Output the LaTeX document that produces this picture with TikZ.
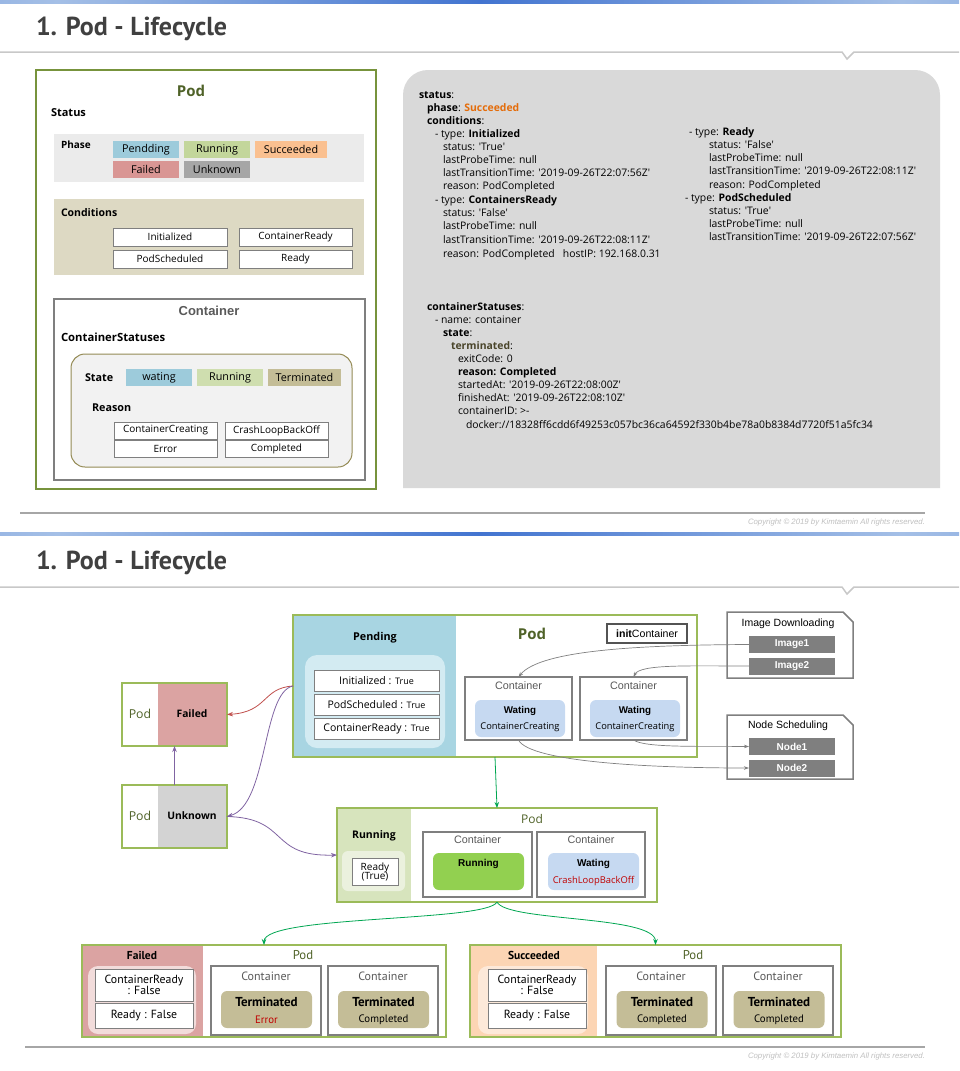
\documentclass[tikz,border=0pt]{standalone}
\usepackage{fontspec}
\setmainfont{Liberation Sans}
\newfontfamily\mg{Open Sans}
\newfontfamily\ttl{PT Sans}
\usetikzlibrary{arrows.meta,calc}
\newcommand\fsz[1]{\fontsize{#1}{#1}\selectfont}
\newcommand\qs{\textquotesingle}
\definecolor{barA}{HTML}{4274D0}
\definecolor{barB}{HTML}{A4BFE6}
\definecolor{cLine}{HTML}{C8C8C8}
\definecolor{cSep}{HTML}{A6A6A6}
\definecolor{cTitle}{HTML}{404040}
\definecolor{cOlive}{HTML}{77933C}
\definecolor{cOliveT}{HTML}{4F6228}
\definecolor{cPodG}{HTML}{9BBB59}
\definecolor{cGrayB}{HTML}{7F7F7F}
\definecolor{cPhase}{HTML}{EBEBEB}
\definecolor{cCond}{HTML}{DDD9C3}
\definecolor{cPend}{HTML}{9DCBDB}
\definecolor{cPend2}{HTML}{A8D5E2}
\definecolor{cPendIn}{HTML}{D3EBF2}
\definecolor{cRun}{HTML}{C3D69B}
\definecolor{cRun2}{HTML}{D7E4BD}
\definecolor{cRunIn}{HTML}{EBF1DE}
\definecolor{cSucc}{HTML}{FAC090}
\definecolor{cSucc2}{HTML}{FCD5B4}
\definecolor{cSuccIn}{HTML}{FDE9D9}
\definecolor{cFail}{HTML}{D99694}
\definecolor{cFail2}{HTML}{DBA3A2}
\definecolor{cFailIn}{HTML}{F2DCDB}
\definecolor{cUnk}{HTML}{A6A6A6}
\definecolor{cUnk2}{HTML}{D3D3D3}
\definecolor{cTerm}{HTML}{C4BD97}
\definecolor{cWait}{HTML}{C6D9F1}
\definecolor{cRunC}{HTML}{92D050}
\definecolor{cYaml}{HTML}{D9D9D9}
\definecolor{cOrange}{HTML}{E46C0A}
\definecolor{cTermT}{HTML}{4A452A}
\definecolor{cRed}{HTML}{C00000}
\definecolor{cArrRed}{HTML}{C0504D}
\definecolor{cPurple}{HTML}{8064A2}
\definecolor{cGreenA}{HTML}{00A651}
\definecolor{cInnerB}{HTML}{948A54}
\definecolor{cPanel}{HTML}{F2F2F2}
\definecolor{cCopy}{HTML}{BFBFBF}
\definecolor{cCont}{HTML}{595959}
\pgfdeclarehorizontalshading{topbar}{100bp}{color(0bp)=(barA); color(28bp)=(barB); color(50bp)=(barA); color(72bp)=(barB); color(100bp)=(barA)}
\begin{document}
\begin{tikzpicture}[x=1pt,y=-1pt,
  every node/.style={inner sep=0pt,outer sep=0pt},
  wh/.style 2 args={minimum width=#1pt,minimum height=#2pt},
  podb/.style={draw=cPodG,line width=1.6pt},
  cbox/.style={draw=cGrayB,line width=1.6pt},
  wbox/.style={draw=cGrayB,line width=0.6pt,fill=white,align=center},
  yml/.style={anchor=base west,font=\mg\fsz{10.4}},
  ttlf/.style={anchor=west,font=\ttl\bfseries\fsz{26},text=cTitle},
  small/.style={font=\mg\fsz{10.8}},
  small2/.style={font=\mg\fsz{10}},
  cont/.style={font=\fsz{10.8},text=cCont},
  garr/.style={draw=cGrayB,line width=0.7pt,-{Stealth[length=5pt,width=3.5pt]}},
  carr/.style={line width=0.8pt,-{Stealth[length=6pt,width=4.5pt]}},
  nar/.style={font=\mg\fsz{10.5}},
  bcont/.style={font=\ttl\fsz{12},text=cCont},
  bterm/.style={font=\ttl\bfseries\fsz{13}},
  bsub/.style={font=\ttl\fsz{10.8}}
]
\useasboundingbox (0,0) rectangle (959,1071);
% ================= TOP HALF =================
\fill[shading=topbar] (0,0) rectangle (959,3.5);
\node[ttlf] (title1) at (36,29) {1. Pod - Lifecycle};
\draw[cLine,line width=1.5pt] (0,52) -- (842,52) -- (847,59) -- (854,52) -- (959,52);

% left Pod box
\node[draw=cOlive,line width=1.6pt,wh={340}{419}] (podA) at (206,279.5) {};
\node[font=\mg\bfseries\fsz{15},text=cOliveT] (podAt) at (191,91) {Pod};
\node[anchor=west,font=\mg\bfseries\fsz{11}] (status) at (51,113) {Status};
\node[fill=cPhase,wh={310}{48}] (phasep) at (209,158) {};
\node[anchor=west,font=\mg\bfseries\fsz{10}] (phase) at (61,145) {Phase};
\node[fill=cPend,wh={66}{17},small] (ph1) at (146,149.5) {Pendding};
\node[fill=cRun,wh={66}{17},small] (ph2) at (217,149.5) {Running};
\node[fill=cSucc,wh={72}{17},small] (ph3) at (291,149.5) {Succeeded};
\node[fill=cFail,wh={66}{17},small] (ph4) at (146,169.5) {Failed};
\node[fill=cUnk,wh={66}{17},small] (ph5) at (217,169.5) {Unknown};
\node[fill=cCond,wh={310}{76}] (condp) at (209,237) {};
\node[anchor=west,font=\mg\bfseries\fsz{10.5}] (cond) at (61,213) {Conditions};
\node[wbox,wh={114}{18},small2] (cd1) at (170,237) {Initialized};
\node[wbox,wh={113}{18},small2] (cd2) at (295.5,237) {ContainerReady};
\node[wbox,wh={114}{18},small2] (cd3) at (170,259) {PodScheduled};
\node[wbox,wh={113}{18},small2] (cd4) at (295.5,259) {Ready};
\node[cbox,wh={311}{181}] (contA) at (209.5,389.5) {};
\node[font=\fsz{13}\bfseries,text=cCont] (contAt) at (209,311) {Container};
\node[anchor=west,font=\mg\bfseries\fsz{11.3}] (cstat) at (61,337) {ContainerStatuses};
\node[draw=cInnerB,line width=1pt,fill=cPanel,rounded corners=14pt,wh={281}{113}] (stp) at (211.5,410.5) {};
\node[anchor=west,font=\mg\bfseries\fsz{10.8}] (state) at (85,377.5) {State};
\node[fill=cPend,wh={66}{17},small] (st1) at (159,377.5) {wating};
\node[fill=cRun!80!white,wh={66}{17},small] (st2) at (230,377.5) {Running};
\node[fill=cTerm,wh={73}{17},small] (st3) at (304.5,377.5) {Terminated};
\node[anchor=west,font=\mg\bfseries\fsz{10.8}] (reason) at (92,408) {Reason};
\node[wbox,wh={103}{17},small2] (r1) at (165.5,430.5) {ContainerCreating};
\node[wbox,wh={103}{17},small2] (r2) at (276.5,430.5) {CrashLoopBackOff};
\node[wbox,wh={103}{17},small2] (r3) at (165.5,448.5) {Error};
\node[wbox,wh={103}{17},small2] (r4) at (276.5,448.5) {Completed};

% YAML panel
\fill[cYaml] (403,488) -- (403,95) .. controls (403,81) and (414,70) .. (428,70) -- (915,70) .. controls (929,70) and (940,81) .. (940,95) -- (940,488) -- cycle;
\node[yml] (y1) at (419,98) {\textbf{status}:};
\node[yml] (y2) at (427,111) {\textbf{phase}: \textcolor{cOrange}{\textbf{Succeeded}}};
\node[yml] (y3) at (427,124) {\textbf{conditions}:};
\node[yml] (y4) at (435,137) {- type: \textbf{Initialized}};
\node[yml] (y5) at (443,150) {status: \qs True\qs};
\node[yml] (y6) at (443,163) {lastProbeTime: null};
\node[yml] (y7) at (443,176) {lastTransitionTime: \qs 2019-09-26T22:07:56Z\qs};
\node[yml] (y8) at (443,189) {reason: PodCompleted};
\node[yml] (y9) at (435,203) {- type: \textbf{ContainersReady}};
\node[yml] (y10) at (443,216) {status: \qs False\qs};
\node[yml] (y11) at (443,229) {lastProbeTime: null};
\node[yml] (y12) at (443,243) {lastTransitionTime: \qs 2019-09-26T22:08:11Z\qs};
\node[yml] (y13) at (443,257) {reason: PodCompleted\ \ \ hostIP: 192.168.0.31};
\node[yml] (y14) at (689,135) {- type: \textbf{Ready}};
\node[yml] (y15) at (709,148) {status: \qs False\qs};
\node[yml] (y16) at (709,161) {lastProbeTime: null};
\node[yml] (y17) at (709,174) {lastTransitionTime: \qs 2019-09-26T22:08:11Z\qs};
\node[yml] (y18) at (709,188) {reason: PodCompleted};
\node[yml] (y19) at (685,201) {- type: \textbf{PodScheduled}};
\node[yml] (y20) at (709,214) {status: \qs True\qs};
\node[yml] (y21) at (709,227) {lastProbeTime: null};
\node[yml] (y22) at (709,240) {lastTransitionTime: \qs 2019-09-26T22:07:56Z\qs};
\node[yml] (y23) at (427,310) {\textbf{containerStatuses}:};
\node[yml] (y24) at (435,323) {- name: container};
\node[yml] (y25) at (443,336) {\textbf{state}:};
\node[yml] (y26) at (451,349) {\textcolor{cTermT}{\textbf{terminated}}:};
\node[yml] (y27) at (458,362) {exitCode: 0};
\node[yml] (y28) at (458,375) {\textbf{reason: Completed}};
\node[yml] (y29) at (458,388) {startedAt: \qs 2019-09-26T22:08:00Z\qs};
\node[yml] (y30) at (458,401) {finishedAt: \qs 2019-09-26T22:08:10Z\qs};
\node[yml] (y31) at (458,414) {containerID: >-};
\node[yml] (y32) at (466,428) {docker://18328ff6cdd6f49253c057bc36ca64592f330b4be78a0b8384d7720f51a5fc34};

\draw[cSep,line width=2pt] (20,513) -- (925,513);
\node[anchor=east,font=\itshape\fsz{7.8},text=cCopy] (copy1) at (925,522) {Copyright © 2019 by Kimtaemin All rights reserved.};

% ================= BOTTOM HALF =================
\fill[shading=topbar] (0,532) rectangle (959,535.5);
\node[ttlf] (title2) at (36,563) {1. Pod - Lifecycle};
\draw[cLine,line width=1.5pt] (0,587) -- (842,587) -- (847,594) -- (854,587) -- (959,587);

% Pending pod
\fill[cPend2] (293,615) rectangle (456,757);
\node[podb,wh={404}{142}] (pend) at (495,686) {};
\node[font=\mg\bfseries\fsz{10.8}] (pendt) at (375,638) {Pending};
\node[fill=cPendIn,rounded corners=12pt,wh={140}{93}] (pendin) at (375,701.5) {};
\node[wbox,wh={125}{21},nar] (pc1) at (376.5,680.5) {Initialized : {\fsz{9}True}};
\node[wbox,wh={125}{21},nar] (pc2) at (376.5,704.5) {PodScheduled : {\fsz{9}True}};
\node[wbox,wh={125}{21},nar] (pc3) at (376.5,728.5) {ContainerReady : {\fsz{9}True}};
\node[font=\mg\bfseries\fsz{15},text=cOliveT] (pendpod) at (532,634) {Pod};
\node[draw=cTitle!90,line width=1.5pt,wh={80}{19},font=\fsz{10.6}] (initc) at (647,633.5) {\textbf{init}Container};
\node[cbox,wh={107}{63}] (c1) at (518.5,708.5) {};
\node[cbox,wh={107}{63}] (c2) at (633.5,708.5) {};
\node[cont] (c1t) at (518.5,686) {Container};
\node[cont] (c2t) at (633.5,686) {Container};
\node[fill=cWait,rounded corners=6pt,wh={90}{37}] (w1) at (520,718.5) {};
\node[fill=cWait,rounded corners=6pt,wh={90}{37}] (w2) at (635,718.5) {};
\node[font=\bfseries\fsz{9.8}] (w1a) at (520,711) {Wating};
\node[font=\mg\fsz{9.3}] (w1b) at (520,727.5) {ContainerCreating};
\node[font=\bfseries\fsz{9.8}] (w2a) at (635,711) {Wating};
\node[font=\mg\fsz{9.3}] (w2b) at (635,727.5) {ContainerCreating};

% Image Downloading / Node Scheduling
\draw[cGrayB,line width=1.5pt] (727,612) -- (843,612) -- (853,622) -- (853,678) -- (727,678) -- cycle;
\node[font=\fsz{10.5}] (imgt) at (788,624) {Image Downloading};
\node[fill=cGrayB,wh={86}{17},font=\bfseries\fsz{10},text=white] (img1) at (792,644.5) {Image1};
\node[fill=cGrayB,wh={86}{17},font=\bfseries\fsz{10},text=white] (img2) at (792,666) {Image2};
\draw[cGrayB,line width=1.5pt] (727,715) -- (843,715) -- (853,725) -- (853,779) -- (727,779) -- cycle;
\node[font=\fsz{10.5}] (nodet) at (788,726) {Node Scheduling};
\node[fill=cGrayB,wh={86}{17},font=\bfseries\fsz{10},text=white] (n1) at (792,746.5) {Node1};
\node[fill=cGrayB,wh={86}{17},font=\bfseries\fsz{10},text=white] (n2) at (792,768) {Node2};

% Failed / Unknown pods
\fill[cFail2] (158,683) rectangle (227,746);
\node[podb,wh={105}{63}] (fail) at (174.5,714.5) {};
\node[font=\mg\fsz{12.3},text=cOliveT] (failp) at (140,714) {Pod};
\node[font=\mg\bfseries\fsz{10.3}] (failt) at (192,714) {Failed};
\fill[cUnk2] (158,785) rectangle (227,848);
\node[podb,wh={105}{63}] (unk) at (174.5,816.5) {};
\node[font=\mg\fsz{12.3},text=cOliveT] (unkp) at (140,816) {Pod};
\node[font=\mg\bfseries\fsz{10.3}] (unkt) at (192,816) {Unknown};

% Running pod
\fill[cRun2] (337,808) rectangle (411,902);
\node[podb,wh={320}{94}] (run) at (497,855) {};
\node[font=\mg\bfseries\fsz{10.5}] (runt) at (374,836) {Running};
\node[fill=cRunIn,rounded corners=6pt,wh={63}{40}] (runin) at (373.5,871) {};
\node[wbox,wh={46}{27},font=\mg\fsz{10},align=center] (ready) at (375,871.5) {Ready\\[-1pt](True)};
\node[font=\mg\fsz{12},text=cOliveT] (runpod) at (532,819) {Pod};
\node[cbox,wh={109}{65}] (rc1) at (477.5,864.5) {};
\node[cbox,wh={108}{65}] (rc2) at (591,864.5) {};
\node[cont] (rc1t) at (477.5,840) {Container};
\node[cont] (rc2t) at (591,840) {Container};
\node[fill=cRunC,rounded corners=6pt,wh={91}{37}] (rr) at (478.5,871.5) {};
\node[font=\bfseries\fsz{10}] (rrt) at (478.5,864) {Running};
\node[fill=cWait,rounded corners=6pt,wh={91}{37}] (rw) at (593.5,871.5) {};
\node[font=\bfseries\fsz{10}] (rwa) at (593.5,864) {Wating};
\node[font=\mg\fsz{9.4},text=cRed] (rwb) at (593.5,881.5) {CrashLoopBackOff};

% Bottom-left Failed pod
\fill[cFail2] (82,945) rectangle (203,1037);
\node[podb,wh={364}{92}] (fpod) at (264,991) {};
\node[font=\ttl\bfseries\fsz{11.5}] (fpt) at (142,955) {Failed};
\node[fill=cFailIn,rounded corners=10pt,wh={108}{68}] (fpin) at (142,1000) {};
\node[wbox,wh={98}{32},font=\ttl\fsz{11.8},align=center] (fb1) at (144,985) {ContainerReady\\[-1.5pt]: False};
\node[wbox,wh={98}{25},font=\ttl\fsz{11.8}] (fb2) at (144,1015.5) {Ready : False};
\node[font=\ttl\fsz{12.8},text=cOliveT] (fpp) at (303,955) {Pod};
\node[cbox,wh={110}{69}] (fc1) at (266,1000.5) {};
\node[cbox,wh={110}{69}] (fc2) at (383,1000.5) {};
\node[bcont] (fc1t) at (266,976) {Container};
\node[bcont] (fc2t) at (383,976) {Container};
\node[fill=cTerm,rounded corners=6pt,wh={91}{37}] (ft1) at (266.5,1009.5) {};
\node[fill=cTerm,rounded corners=6pt,wh={91}{37}] (ft2) at (383.5,1009.5) {};
\node[bterm] (ft1a) at (266.5,1002) {Terminated};
\node[bsub,text=cRed] (ft1b) at (266.5,1020) {Error};
\node[bterm] (ft2a) at (383.5,1002) {Terminated};
\node[bsub] (ft2b) at (383.5,1020) {Completed};

% Bottom-right Succeeded pod
\fill[cSucc2] (470,945) rectangle (597,1037);
\node[podb,wh={371}{92}] (spod) at (655.5,991) {};
\node[font=\ttl\bfseries\fsz{11.5}] (spt) at (534,955) {Succeeded};
\node[fill=cSuccIn,rounded corners=10pt,wh={110}{68}] (spin) at (533,1000) {};
\node[wbox,wh={98}{32},font=\ttl\fsz{11.8},align=center] (sb1) at (537,985) {ContainerReady\\[-1.5pt]: False};
\node[wbox,wh={98}{25},font=\ttl\fsz{11.8}] (sb2) at (537,1015.5) {Ready : False};
\node[font=\ttl\fsz{12.8},text=cOliveT] (spp) at (693,955) {Pod};
\node[cbox,wh={110}{69}] (sc1) at (661,1000.5) {};
\node[cbox,wh={110}{69}] (sc2) at (778,1000.5) {};
\node[bcont] (sc1t) at (661,976) {Container};
\node[bcont] (sc2t) at (778,976) {Container};
\node[fill=cTerm,rounded corners=6pt,wh={91}{37}] (st1b) at (662,1009.5) {};
\node[fill=cTerm,rounded corners=6pt,wh={91}{37}] (st2b) at (779,1009.5) {};
\node[bterm] (st1a) at (662,1002) {Terminated};
\node[bsub] (st1c) at (662,1020) {Completed};
\node[bterm] (st2a) at (779,1002) {Terminated};
\node[bsub] (st2c) at (779,1020) {Completed};

\draw[cSep,line width=2pt] (25,1047) -- (925,1047);
\node[anchor=east,font=\itshape\fsz{7.8},text=cCopy] (copy2) at (925,1056) {Copyright © 2019 by Kimtaemin All rights reserved.};

% ================= CONNECTORS =================
\draw[garr] (img1.west) .. controls (640,645) and (540,650) .. (c1.north);
\draw[garr] (img2.west) .. controls (690,666) and (640,664) .. (c2.north);
\draw[garr] (c1.south) .. controls (530,762) and (650,768) .. (n2.west);
\draw[garr] (c2.south) .. controls (645,748) and (700,746) .. (n1.west);
\draw[carr,cGreenA] (pend.south) -- (run.north);
\draw[carr,cArrRed] (pend.west) .. controls (262,688) and (268,712) .. (fail.east);
\draw[carr,cPurple] (pend.west) .. controls (262,692) and (268,805) .. (unk.east);
\draw[carr,cPurple] (unk.east) .. controls (290,818) and (268,857) .. (run.west);
\draw[carr,cPurple] (unk.north) -- (fail.south);
\draw[carr,cGreenA] (run.south) .. controls ($(run.south)+(-10,20)$) and ($(fpod.north)+(0,-30)$) .. (fpod.north);
\draw[carr,cGreenA] (run.south) .. controls ($(run.south)+(10,20)$) and ($(spod.north)+(0,-30)$) .. (spod.north);
\end{tikzpicture}
\end{document}
